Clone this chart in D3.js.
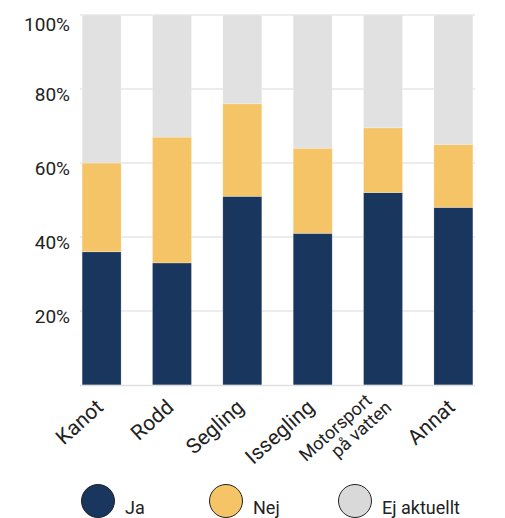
<!DOCTYPE html>
<html><head><meta charset="utf-8">
<script src="https://cdn.jsdelivr.net/npm/d3@7"></script>
<style>body{margin:0;background:#fff;font-family:Roboto,"Noto Sans",sans-serif;}</style>
</head><body><svg id="c" width="505" height="518"></svg>
<script>
const categories = ["Kanot","Rodd","Segling","Issegling","Motorsport\npå vatten","Annat"];
const seriesNames = ["Ja","Nej","Ej aktuellt"];
const ja  = [36, 33, 51, 41, 52, 48];
const nej = [24, 34, 25, 23, 17.5, 17];
const ej  = [40, 33, 24, 36, 30.5, 35];
const yTicks = [20, 40, 60, 80, 100];
const colors = ["#18365E", "#F4C466", "#E1E1E1"];

const svg = d3.select("#c");
const x = d3.scaleBand().domain(categories).range([80, 475]).paddingInner(0.446).paddingOuter(0.03);
const y = d3.scaleLinear().domain([0, 100]).range([385, 15]);

// gridlines
svg.append("g").selectAll("line").data(yTicks).join("line")
  .attr("x1", 80).attr("x2", 475).attr("y1", d => y(d)).attr("y2", d => y(d))
  .attr("stroke", "#e6e6e6").attr("stroke-width", 1.3);

// y labels
svg.append("g").selectAll("text").data(yTicks).join("text")
  .attr("x", 70).attr("y", d => y(d) + (d === 100 ? 16 : 12)).attr("text-anchor", "end")
  .attr("font-size", 19).attr("fill", "#222").text(d => d + "%");

const data = categories.map((c, i) => ({cat: c, Ja: ja[i], Nej: nej[i], "Ej aktuellt": ej[i]}));
const stack = d3.stack().keys(seriesNames)(data);
svg.append("g").selectAll("g").data(stack).join("g").attr("fill", (d, i) => colors[i])
  .selectAll("rect").data(d => d).join("rect")
  .attr("x", d => x(d.data.cat)).attr("width", x.bandwidth())
  .attr("y", d => y(d[1])).attr("height", d => y(d[0]) - y(d[1]))
  .attr("stroke", "#fff").attr("stroke-opacity", 0.4).attr("stroke-width", 0.6);

// baseline
svg.append("line").attr("x1", 80).attr("x2", 475).attr("y1", 385.5).attr("y2", 385.5)
  .attr("stroke", "#e0e0e0").attr("stroke-width", 1.3);

// x labels
const xl = svg.append("g").selectAll("g").data(categories).join("g")
  .attr("transform", d => `translate(${x(d) + x.bandwidth()/2 + 3},${409}) rotate(-42)`);
xl.each(function(d) {
  const lines = d.split("\n");
  const g = d3.select(this);
  if (lines.length === 1) {
    g.append("text").attr("text-anchor", "end").attr("font-size", 21).attr("fill", "#222").text(d);
  } else {
    g.append("text").attr("text-anchor", "end").attr("font-size", 18).attr("fill", "#222")
      .attr("x", -5).attr("y", -14).text(lines[0]);
    g.append("text").attr("text-anchor", "end").attr("font-size", 18).attr("fill", "#222")
      .attr("x", 5).attr("y", 4.5).text(lines[1]);
  }
});

// legend
const leg = [{n: "Ja", cx: 98}, {n: "Nej", cx: 226}, {n: "Ej aktuellt", cx: 355}];
const lg = svg.append("g").selectAll("g").data(leg).join("g");
lg.append("circle").attr("cx", d => d.cx).attr("cy", 501).attr("r", 16.5)
  .attr("fill", (d, i) => i === 2 ? "#D9D9D9" : colors[i]).attr("stroke", "#222").attr("stroke-width", 1);
lg.append("text").attr("x", d => d.cx + 27).attr("y", 514).attr("font-size", 18).attr("fill", "#222").text(d => d.n);
</script></body></html>
